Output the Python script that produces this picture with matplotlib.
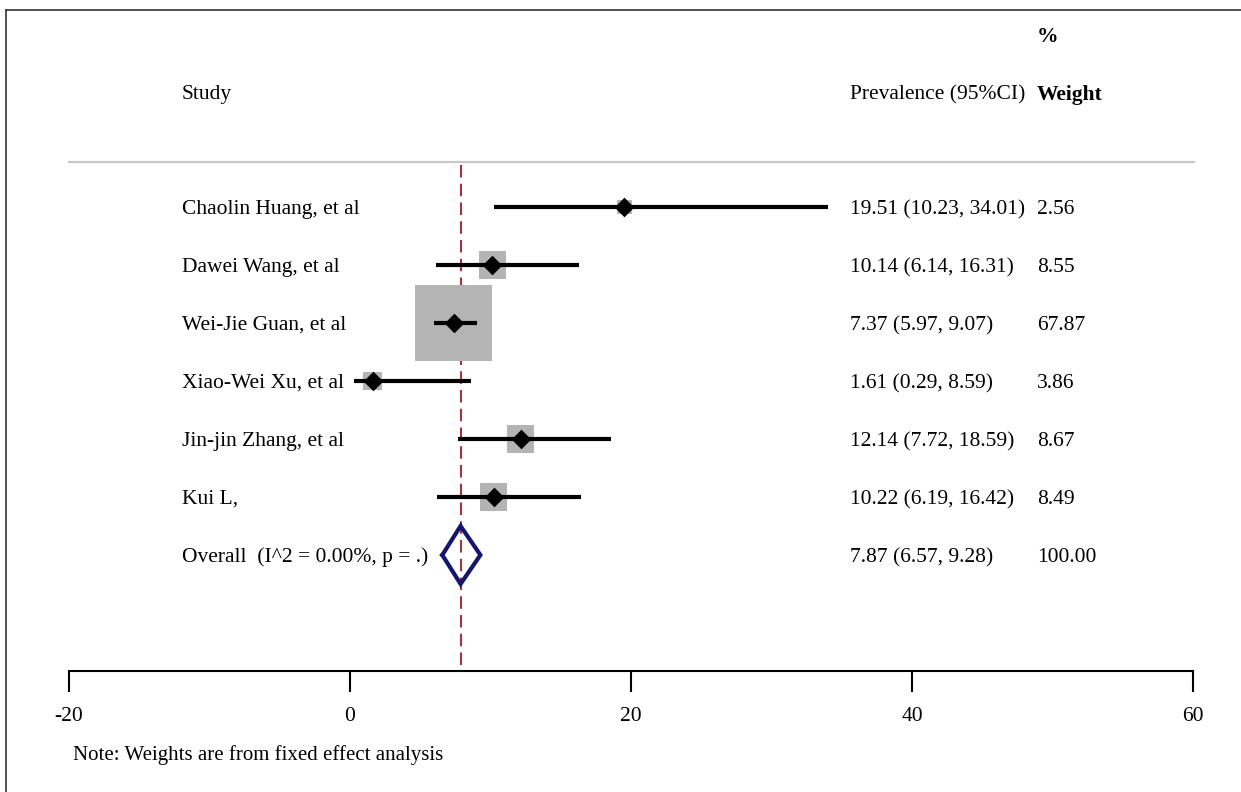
import matplotlib.pyplot as plt
import numpy as np
from matplotlib.lines import Line2D

# data
studies = ["Chaolin Huang, et al", "Dawei Wang, et al", "Wei-Jie Guan, et al",
           "Xiao-Wei Xu, et al", "Jin-jin Zhang, et al", "Kui L,"]
prev = [19.51, 10.14, 7.37, 1.61, 12.14, 10.22]
lo = [10.23, 6.14, 5.97, 0.29, 7.72, 6.19]
hi = [34.01, 16.31, 9.07, 8.59, 18.59, 16.42]
weight = [2.56, 8.55, 67.87, 3.86, 8.67, 8.49]
overall_label = "Overall  (I^2 = 0.00%, p = .)"
overall = 7.87
overall_lo = 6.57
overall_hi = 9.28
overall_weight = 100.00
xticks = [-20, 0, 20, 40, 60]

plt.rcParams['font.family'] = ['Liberation Serif', 'DejaVu Serif']
plt.rcParams['axes.unicode_minus'] = False
fs = 15.5

fig = plt.figure(figsize=(12.41, 7.92), dpi=100)
W, H = 1241, 792
# axes: x -20..60 -> px 69..1193, bottom at px 671, top at px 10
ax = fig.add_axes([69 / W, (H - 671) / H, (1193 - 69) / W, (671 - 10) / H])
ax.set_xlim(-20, 60)
ax.set_ylim(8.0, (10 - 207) / 58)

rows = np.arange(len(studies))

# weight boxes
side = 55.4 * np.sqrt(np.array(weight) / 67.87)
ax.scatter(prev, rows, s=side ** 2, marker='s', color='#b4b4b4', zorder=2,
           linewidths=0)
# CI lines
ax.hlines(rows, lo, hi, color='black', lw=3, zorder=3)
ax.scatter(prev, rows, s=100, marker='D', color='black', zorder=4, linewidths=0)

# overall diamond
yo = len(studies)
dx = [overall_lo, overall, overall_hi, overall, overall_lo]
dy = [yo, yo - 0.5, yo, yo + 0.5, yo]
ax.plot(dx, dy, color='#15166b', lw=3, zorder=5, solid_joinstyle='miter')

# reference line at overall estimate
ax.plot([overall, overall], [-0.72, 8.0], color='#a3343e', lw=1.5,
        ls=(0, (6, 3)), zorder=1)

# separator
ax.plot([-20, 60.1], [-0.776, -0.776], color='#c8c8c8', lw=1.6, clip_on=False)

# text columns
x_study, x_prev, x_w = -11.96, 35.59, 48.9
tk = dict(fontsize=fs, va='center_baseline')
ax.text(x_study, -1.98, "Study", **tk)
ax.text(x_prev, -1.98, "Prevalence (95%CI)", **tk)
ax.text(x_w, -1.98, "Weight", fontweight='bold', **tk)
ax.text(x_w, -2.98, "%", fontweight='bold', **tk)

for i, s in enumerate(studies):
    ax.text(x_study, i, s, **tk)
    ax.text(x_prev, i, "%.2f (%.2f, %.2f)" % (prev[i], lo[i], hi[i]), **tk)
    ax.text(x_w, i, "%.2f" % weight[i], **tk)

ax.text(x_study, yo, overall_label, **tk)
ax.text(x_prev, yo, "%.2f (%.2f, %.2f)" % (overall, overall_lo, overall_hi), **tk)
ax.text(x_w, yo, "%.2f" % overall_weight, **tk)

# axis styling
for sp in ['top', 'right', 'left']:
    ax.spines[sp].set_visible(False)
ax.spines['bottom'].set_linewidth(1.5)
ax.spines['bottom'].set_bounds(-20, 60)
ax.set_yticks([])
ax.set_xticks(xticks)
ax.tick_params(axis='x', length=15, width=1.5, labelsize=fs, pad=11)
ax.set_facecolor('none')

fig.text(73 / W, 1 - 753 / H, "Note: Weights are from fixed effect analysis",
         fontsize=fs - 0.5, va='center_baseline')

# outer frame (left and top edges)
fig.add_artist(Line2D([6 / W, 6 / W], [0, 1 - 10 / H], color='#333333', lw=1.2))
fig.add_artist(Line2D([6 / W, 1], [1 - 10 / H, 1 - 10 / H], color='#333333', lw=1.2))

fig.savefig('out.png', dpi=100)
